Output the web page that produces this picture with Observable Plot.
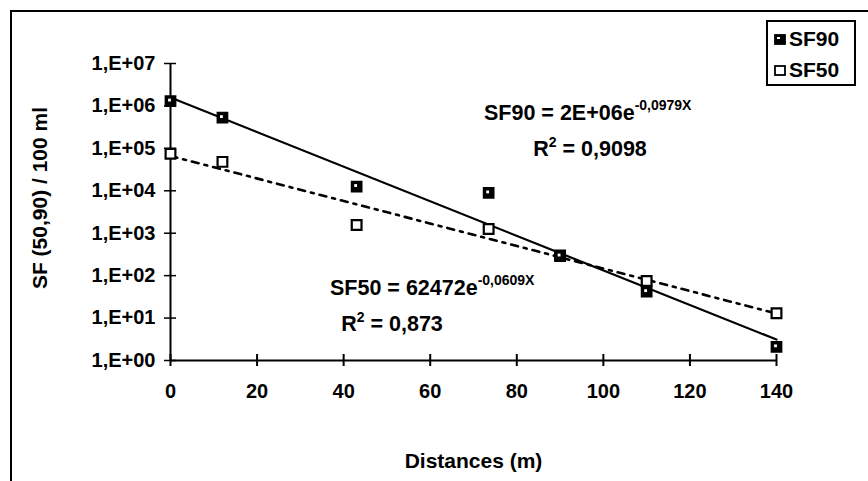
<!DOCTYPE html>
<html>
<head>
<meta charset="utf-8">
<script src="https://cdn.jsdelivr.net/npm/d3@7"></script>
<script src="https://cdn.jsdelivr.net/npm/@observablehq/plot@0.6"></script>
<style>
  html, body { margin: 0; padding: 0; background: #fff; }
  #chart svg { display: block; }
</style>
</head>
<body>
<div id="chart"></div>
<script>
// ---- data ----
const distances = [0, 12, 43, 73.5, 90, 110, 140];
const sf90 = [1.3e6, 5.3e5, 1.26e4, 8.9e3, 290, 42, 2.1];
const sf50 = [7.5e4, 4.8e4, 1.56e3, 1.26e3, 300, 75, 13];
const seriesNames = ["SF90", "SF50"];
const xTicks = [0, 20, 40, 60, 80, 100, 120, 140];
const yTicks = [1, 10, 100, 1e3, 1e4, 1e5, 1e6, 1e7];
const yTickLabels = ["1,E+00", "1,E+01", "1,E+02", "1,E+03", "1,E+04", "1,E+05", "1,E+06", "1,E+07"];
const eq90 = {main: "SF90 = 2E+06e", sup: "-0,0979X", r2: "0,9098"};
const eq50 = {main: "SF50 = 62472e", sup: "-0,0609X", r2: "0,873"};
const xLabel = "Distances (m)";
const yLabel = "SF (50,90) / 100 ml";

// exponential (log-linear) least squares fit, as in the spreadsheet trendline
function expFit(xs, ys) {
  const n = xs.length;
  const ly = ys.map(Math.log);
  const mx = d3.mean(xs), my = d3.mean(ly);
  let sxy = 0, sxx = 0;
  for (let i = 0; i < n; i++) { sxy += (xs[i] - mx) * (ly[i] - my); sxx += (xs[i] - mx) ** 2; }
  const b = sxy / sxx, a = my - b * mx;
  return x => Math.exp(a + b * x);
}
const f90 = expFit(distances, sf90);
const f50 = expFit(distances, sf50);
const xEnds = d3.extent(xTicks);
const trend90 = xEnds.map(x => ({x, y: f90(x)}));
const trend50 = xEnds.map(x => ({x, y: f50(x)}));

const pts90 = distances.map((d, i) => ({x: d, y: sf90[i]}));
const pts50 = distances.map((d, i) => ({x: d, y: sf50[i]}));

const FONT = "'Liberation Sans', Arial, sans-serif";

const plot = Plot.plot({
  width: 868,
  height: 481,
  marginLeft: 170,
  marginRight: 92,
  marginTop: 63,
  marginBottom: 121,
  style: {fontFamily: FONT, background: "#fff"},
  x: {domain: d3.extent(xTicks), axis: null},
  y: {type: "log", domain: d3.extent(yTicks), axis: null},
  marks: [
    // axes lines
    Plot.ruleX([xTicks[0]], {y1: yTicks[0], y2: yTicks[yTicks.length - 1], stroke: "#000", strokeWidth: 2}),
    Plot.ruleY([yTicks[0]], {x1: xTicks[0], x2: xTicks[xTicks.length - 1], stroke: "#000", strokeWidth: 2}),
    // y ticks crossing axis
    Plot.ruleY(yTicks, {y: d => d, x1: xTicks[0], x2: xTicks[0], insetLeft: -6, insetRight: -6, stroke: "#000", strokeWidth: 1.5}),
    // x ticks crossing axis
    Plot.ruleX(xTicks, {x: d => d, y1: yTicks[0], y2: yTicks[0], insetTop: -6, insetBottom: -6, stroke: "#000", strokeWidth: 2}),
    // tick labels
    Plot.text(yTicks, {x: xTicks[0], y: d => d, text: (d, i) => yTickLabels[i], textAnchor: "end", dx: -15, fontSize: 20, fontWeight: "bold", fill: "#000"}),
    Plot.text(xTicks, {x: d => d, y: yTicks[0], text: d => String(d), dy: 31, fontSize: 20, fontWeight: "bold", fill: "#000"}),
    // axis titles
    Plot.text([xLabel], {frameAnchor: "bottom", textAnchor: "middle", dy: 107, fontSize: 21, fontWeight: "bold", fill: "#000"}),
    Plot.text([yLabel], {frameAnchor: "left", textAnchor: "middle", dx: -130, dy: -14, rotate: -90, fontSize: 21, fontWeight: "bold", fill: "#000"}),
    // trend lines
    Plot.line(trend90, {x: "x", y: "y", stroke: "#000", strokeWidth: 2.2}),
    Plot.line(trend50, {x: "x", y: "y", stroke: "#000", strokeWidth: 2.6, strokeDasharray: "7,6,3,6"}),
    // points
    Plot.dot(pts50, {x: "x", y: "y", symbol: "square", r: 5.5, fill: "#fff", stroke: "#000", strokeWidth: 2.2}),
    Plot.dot(pts90, {x: "x", y: "y", symbol: "square", r: 5.5, fill: "#000", stroke: "#000", strokeWidth: 2}),
    Plot.dot(pts90, {x: "x", y: "y", symbol: "square", r: 1.6, fill: "#fff", stroke: "none", dx: -1, dy: -1})
  ]
});

document.getElementById("chart").appendChild(plot);

// ---- annotations, legend and outer frame ----
const svg = d3.select(plot);
const g = svg.append("g").attr("font-family", FONT).attr("font-weight", "bold").attr("fill", "#000");

function equation(x, y, eq, rx) {
  const t = g.append("text").attr("x", x).attr("y", y).attr("font-size", 21.5).attr("text-anchor", "start");
  t.append("tspan").text(eq.main);
  t.append("tspan").attr("font-size", 14).attr("dy", -10).text(eq.sup);
  const r = g.append("text").attr("x", rx).attr("y", y + 36).attr("font-size", 21.5).attr("text-anchor", "middle");
  r.append("tspan").text("R");
  r.append("tspan").attr("font-size", 14).attr("dy", -9).text("2");
  r.append("tspan").attr("dy", 9).text(" = " + eq.r2);
}
equation(484, 120, eq90, 590);
equation(330, 295, eq50, 392);

// outer frame (top and left edges visible)
svg.append("path").attr("d", "M11,481 V11 H868").attr("fill", "none").attr("stroke", "#000").attr("stroke-width", 2);

// legend
const lg = svg.append("g").attr("font-family", FONT).attr("font-weight", "bold");
lg.append("rect").attr("x", 767).attr("y", 21).attr("width", 88).attr("height", 64)
  .attr("fill", "#fff").attr("stroke", "#000").attr("stroke-width", 2);
seriesNames.forEach((name, i) => {
  const cy = 38 + i * 31;
  lg.append("rect").attr("x", 775).attr("y", cy - 3).attr("width", 10).attr("height", 9)
    .attr("fill", i === 0 ? "#000" : "#fff").attr("stroke", "#000").attr("stroke-width", 1.8);
  if (i === 0) lg.append("rect").attr("x", 777).attr("y", cy - 1).attr("width", 3).attr("height", 2).attr("fill", "#fff");
  lg.append("text").attr("x", 789).attr("y", cy + 8).attr("font-size", 21).attr("fill", "#000")
    .attr("text-anchor", "start").text(name);
});
</script>
</body>
</html>
